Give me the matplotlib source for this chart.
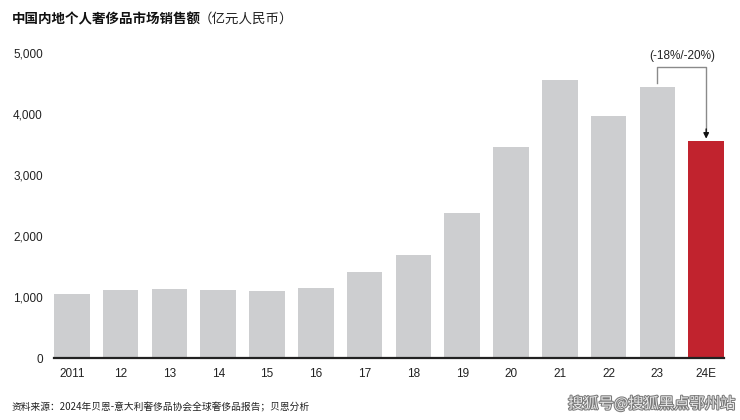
import matplotlib
matplotlib.use("Agg")
import matplotlib.pyplot as plt
import matplotlib.patheffects as pe

categories = ["2011", "12", "13", "14", "15", "16", "17", "18", "19", "20", "21", "22", "23", "24E"]
values = [1060, 1120, 1140, 1125, 1110, 1160, 1410, 1690, 2380, 3460, 4560, 3970, 4440, 3560]
yticks = [0, 1000, 2000, 3000, 4000, 5000]
ytick_labels = ["0", "1,000", "2,000", "3,000", "4,000", "5,000"]
title_bold = "中国内地个人奢侈品市场销售额"
title_unit = "（亿元人民币）"
annotation = "(-18%/-20%)"
source = "资料来源：2024年贝恩-意大利奢侈品协会全球奢侈品报告；贝恩分析"
watermark = "搜狐号@搜狐黑点鄂州站"

GRAY = "#CDCED0"
RED = "#C1232E"
NUM_FONT = ["Liberation Sans", "DejaVu Sans"]
CJK_FONT = ["Noto Sans CJK SC", "DejaVu Sans"]

fig = plt.figure(figsize=(7.4, 4.2), dpi=100)
ax = fig.add_axes([54 / 740, 1 - 358.3 / 420, (724 - 54) / 740, (358.3 - 53.3) / 420])

x = list(range(len(categories)))
colors = [GRAY] * (len(categories) - 1) + [RED]
ax.bar(x, values, width=0.73, color=colors, zorder=2)

ax.set_xlim(-0.365, len(categories) - 1 + 0.365)
ax.set_ylim(0, 5000)
ax.set_yticks(yticks)
ax.set_yticklabels(ytick_labels, family=NUM_FONT, fontsize=8.5, color="#222222")
ax.set_xticks(x)
ax.set_xticklabels(categories, family=NUM_FONT, fontsize=8.5, color="#222222")
ax.tick_params(axis="y", length=0, pad=8)
ax.tick_params(axis="x", length=0, pad=7)
for s in ["top", "right", "left"]:
    ax.spines[s].set_visible(False)
ax.spines["bottom"].set_linewidth(1.6)
ax.spines["bottom"].set_color("#222222")
ax.spines["bottom"].set_zorder(3)

# bracket annotation from 23 to 24E
i23 = len(categories) - 2
i24 = len(categories) - 1
y_start = values[i23] + 80
y_top = 4770
ax.plot([i23, i23, i24, i24], [y_start, y_top, y_top, values[i24] + 160],
        color="#8A8A8A", lw=1.0, clip_on=False, zorder=3)
ax.annotate("", xy=(i24, values[i24] + 40), xytext=(i24, values[i24] + 200),
            arrowprops=dict(arrowstyle="-|>", color="#111111", lw=1.0,
                            mutation_scale=8, shrinkA=0, shrinkB=0),
            annotation_clip=False)
ax.text((i23 + i24) / 2, 4960, annotation, ha="center", va="center",
        family=NUM_FONT, fontsize=8.5, color="#222222")

# title
t1 = fig.text(12 / 740, 1 - 19 / 420, title_bold, ha="left", va="center",
              family=CJK_FONT, fontsize=9.7, fontweight="bold", color="#111111")
fig.canvas.draw()
bb = t1.get_window_extent()
fig.text((bb.x1 - 2) / 740, 1 - 19 / 420, title_unit, ha="left", va="center",
         family=CJK_FONT, fontsize=9.7, color="#222222")

fig.text(12 / 740, 1 - 407 / 420, source, ha="left", va="center",
         family=CJK_FONT, fontsize=7.0, color="#222222")
fig.text(735 / 740, 1 - 404 / 420, watermark, ha="right", va="center",
         family=CJK_FONT, fontsize=11, color="#E8E8E8",
         path_effects=[pe.withStroke(linewidth=1.5, foreground="#7A7A7A")])

fig.savefig("out.png", dpi=100, facecolor="white")
